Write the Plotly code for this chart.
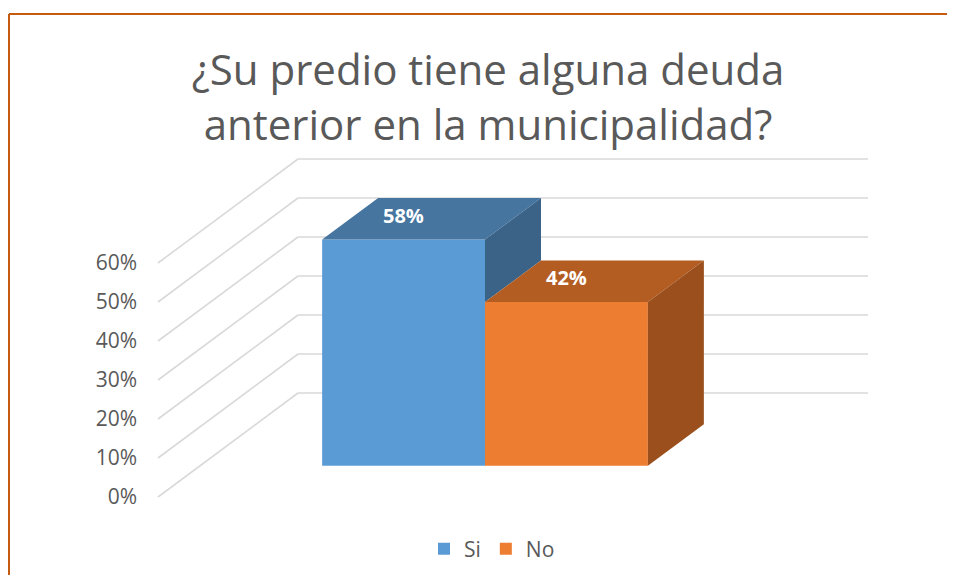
import plotly.graph_objects as go

# ---- data ----
categories = ["Si", "No"]
values = [0.58, 0.42]
value_labels = ["58%", "42%"]
tick_values = [0.0, 0.1, 0.2, 0.3, 0.4, 0.5, 0.6]
tick_labels = ["0%", "10%", "20%", "30%", "40%", "50%", "60%"]
title_text = "¿Su predio tiene alguna deuda<br>anterior en la municipalidad?"

# ---- styling ----
front_colors = ["#5B9BD5", "#ED7D31"]
top_colors = ["#4675A0", "#B45D22"]
side_colors = ["#3B6388", "#9A4F1C"]
grid_color = "#D9D9D9"
text_color = "#595959"
font_family = "Open Sans"

# figure size (page body has an 8px margin)
W, H = 939, 567
L, T = 142, 132
PW, PH = 730, 370
R, B = W - L - PW, H - T - PH

# oblique projection of the depth axis (in axis units)
KX = 140 / 570
KY = 104 / 390
T0, T1 = 0.3, 0.7          # bar depth band
GAP = 1.5                  # gap width (150%)
bw = 1 / (len(categories) + GAP)
start = GAP * bw / 2

fig = go.Figure()

# gridlines (side wall + back wall), behind everything
shapes = []
for v in tick_values:
    shapes.append(dict(type="line", xref="x", yref="y", x0=0, y0=v, x1=KX, y1=v + KY,
                       line=dict(color=grid_color, width=1.6), layer="below"))
    shapes.append(dict(type="line", xref="x", yref="y", x0=KX, y0=v + KY, x1=1 + KX, y1=v + KY,
                       line=dict(color=grid_color, width=1.6), layer="below"))

# front faces as bars
for i, (c, v) in enumerate(zip(categories, values)):
    x0 = start + i * bw
    fig.add_trace(go.Bar(
        x=[x0 + bw / 2 + T0 * KX], y=[v], base=[T0 * KY], width=[bw],
        name=c, marker=dict(color=front_colors[i], line=dict(width=0)),
        hoverinfo="skip"))

# top and side faces
for i, (c, v) in enumerate(zip(categories, values)):
    x0 = start + i * bw
    x1 = x0 + bw
    fig.add_trace(go.Scatter(
        x=[x0 + T0 * KX, x1 + T0 * KX, x1 + T1 * KX, x0 + T1 * KX, x0 + T0 * KX],
        y=[v + T0 * KY, v + T0 * KY, v + T1 * KY, v + T1 * KY, v + T0 * KY],
        fill="toself", fillcolor=top_colors[i], mode="lines", line=dict(width=0),
        showlegend=False, hoverinfo="skip"))
    if i + 1 < len(values) and values[i + 1] >= v:
        continue
    base = values[i + 1] if i + 1 < len(values) else 0
    fig.add_trace(go.Scatter(
        x=[x1 + T0 * KX, x1 + T1 * KX, x1 + T1 * KX, x1 + T0 * KX, x1 + T0 * KX],
        y=[base + T0 * KY, base + T1 * KY, v + T1 * KY, v + T0 * KY, base + T0 * KY],
        fill="toself", fillcolor=side_colors[i], mode="lines", line=dict(width=0),
        showlegend=False, hoverinfo="skip"))

# data labels
annotations = []
for i, (v, lab) in enumerate(zip(values, value_labels)):
    x0 = start + i * bw
    annotations.append(dict(
        x=x0 + bw / 2 + T0 * KX, y=v + T0 * KY + 0.062, xref="x", yref="y",
        text="<b>" + lab + "</b>", showarrow=False,
        font=dict(family=font_family, size=20, color="white")))

# outer border (top and left edges of the chart frame)
border = dict(color="#C55A11", width=2)
top_y = (T + PH - 6) / PH
left_x = (1 - L) / PW
shapes.append(dict(type="line", xref="paper", yref="paper",
                   x0=left_x, x1=(W - L) / PW, y0=top_y, y1=top_y, line=border, layer="below"))
shapes.append(dict(type="line", xref="paper", yref="paper",
                   x0=left_x, x1=left_x, y0=-B / PH, y1=top_y, line=border, layer="below"))

fig.update_layout(
    width=W, height=H,
    margin=dict(l=L, r=R, t=T, b=B),
    paper_bgcolor="white", plot_bgcolor="white",
    barmode="overlay",
    title=dict(text=title_text, x=(488 - 8) / W, xanchor="center", xref="container",
               y=1 - 77 / H, yanchor="middle", yref="container",
               font=dict(family=font_family, size=42, color=text_color)),
    xaxis=dict(range=[(150 - 158) / 570, (880 - 158) / 570], visible=False, fixedrange=True),
    yaxis=dict(range=[(497 - 510) / 390, (497 - 140) / 390], tickvals=tick_values,
               ticktext=tick_labels, showgrid=False, zeroline=False, showline=False,
               ticks="", ticklabelstandoff=12,
               tickfont=dict(family=font_family, size=21, color=text_color)),
    legend=dict(orientation="h", xref="container", yref="container",
                x=(492 - 8) / W, y=1 - (549 - 8) / H,
                xanchor="center", yanchor="middle",
                font=dict(family=font_family, size=21, color=text_color)),
    shapes=shapes, annotations=annotations,
    showlegend=True,
)

fig.write_html("out.html")
